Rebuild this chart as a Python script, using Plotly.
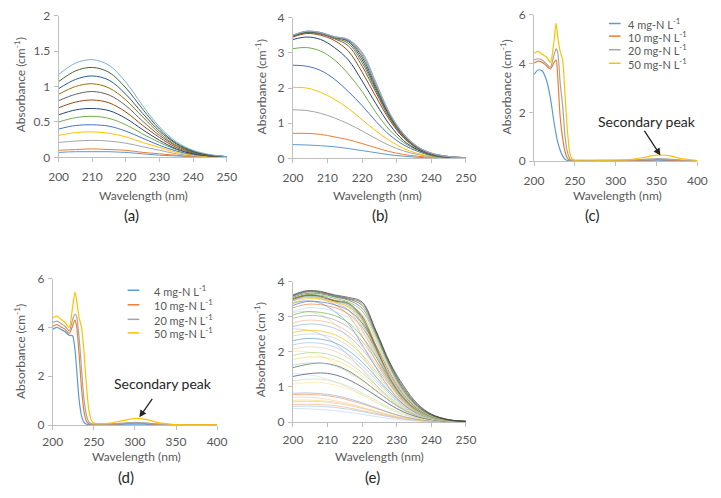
import plotly.graph_objects as go

W, H = 721, 498

# ---------------- data ----------------
# (a) wavelength grid and absorbance curves (bottom -> top)
wl_a = [200, 205, 210, 215, 220, 225, 230, 235, 240, 245, 250]
abs_a = [
    [0.07, 0.08, 0.08, 0.08, 0.07, 0.05, 0.03, 0.02, 0.01, 0.00, 0.00],
    [0.10, 0.11, 0.12, 0.11, 0.10, 0.07, 0.05, 0.03, 0.01, 0.01, 0.00],
    [0.21, 0.23, 0.24, 0.23, 0.20, 0.15, 0.10, 0.05, 0.02, 0.01, 0.00],
    [0.31, 0.35, 0.36, 0.34, 0.29, 0.21, 0.14, 0.07, 0.03, 0.01, 0.01],
    [0.40, 0.45, 0.46, 0.44, 0.37, 0.27, 0.17, 0.09, 0.04, 0.02, 0.01],
    [0.50, 0.56, 0.58, 0.55, 0.46, 0.33, 0.21, 0.11, 0.05, 0.02, 0.01],
    [0.60, 0.67, 0.69, 0.66, 0.55, 0.39, 0.24, 0.12, 0.05, 0.02, 0.01],
    [0.70, 0.78, 0.81, 0.77, 0.64, 0.45, 0.28, 0.14, 0.06, 0.02, 0.01],
    [0.80, 0.89, 0.93, 0.88, 0.73, 0.51, 0.31, 0.16, 0.07, 0.03, 0.01],
    [0.89, 1.00, 1.04, 0.98, 0.81, 0.57, 0.34, 0.17, 0.08, 0.03, 0.01],
    [0.97, 1.10, 1.15, 1.09, 0.89, 0.62, 0.37, 0.19, 0.08, 0.03, 0.01],
    [1.07, 1.22, 1.27, 1.20, 0.98, 0.68, 0.40, 0.20, 0.09, 0.03, 0.01],
    [1.17, 1.33, 1.38, 1.30, 1.06, 0.73, 0.43, 0.22, 0.10, 0.04, 0.01],
]
colors_a = ["#5B9BD5", "#ED7D31", "#A5A5A5", "#FFC000", "#4472C4", "#70AD47",
            "#264478", "#9E480E", "#636363", "#997300", "#255E91", "#43682B", "#7CAFDD"]

# (b)
wl_b = [200, 204, 208, 212, 216, 220, 224, 228, 232, 236, 240, 245, 250]
abs_b = [
    [0.39, 0.38, 0.36, 0.33, 0.28, 0.22, 0.16, 0.10, 0.06, 0.03, 0.01, 0.00, 0.00],
    [0.71, 0.71, 0.68, 0.61, 0.53, 0.42, 0.30, 0.19, 0.11, 0.06, 0.03, 0.01, 0.00],
    [1.38, 1.36, 1.28, 1.15, 0.98, 0.78, 0.56, 0.36, 0.21, 0.11, 0.05, 0.02, 0.00],
    [2.02, 2.00, 1.88, 1.68, 1.42, 1.10, 0.78, 0.50, 0.28, 0.14, 0.06, 0.02, 0.00],
    [2.65, 2.62, 2.50, 2.25, 1.90, 1.50, 1.05, 0.66, 0.38, 0.20, 0.08, 0.02, 0.01],
    [3.12, 3.15, 3.05, 2.80, 2.40, 1.90, 1.30, 0.80, 0.45, 0.23, 0.09, 0.03, 0.01],
    [3.38, 3.45, 3.38, 3.15, 2.80, 2.20, 1.55, 0.95, 0.50, 0.25, 0.10, 0.03, 0.01],
    [3.45, 3.55, 3.50, 3.35, 3.05, 2.45, 1.75, 1.08, 0.58, 0.28, 0.12, 0.04, 0.01],
    [3.47, 3.57, 3.53, 3.40, 3.20, 2.62, 1.87, 1.13, 0.60, 0.29, 0.13, 0.04, 0.01],
    [3.48, 3.58, 3.55, 3.42, 3.27, 2.72, 1.93, 1.16, 0.62, 0.30, 0.13, 0.04, 0.01],
    [3.49, 3.59, 3.56, 3.44, 3.32, 2.80, 1.98, 1.19, 0.64, 0.31, 0.14, 0.05, 0.01],
    [3.50, 3.60, 3.57, 3.45, 3.35, 2.88, 2.04, 1.22, 0.66, 0.32, 0.14, 0.05, 0.02],
    [3.50, 3.61, 3.57, 3.45, 3.37, 2.94, 2.09, 1.25, 0.67, 0.32, 0.14, 0.05, 0.02],
    [3.51, 3.61, 3.58, 3.46, 3.38, 2.99, 2.13, 1.27, 0.68, 0.33, 0.15, 0.05, 0.02],
    [3.50, 3.62, 3.58, 3.46, 3.38, 3.02, 2.16, 1.28, 0.70, 0.34, 0.15, 0.05, 0.02],
]
colors_b = ["#5B9BD5", "#ED7D31", "#A5A5A5", "#FFC000", "#4472C4", "#70AD47",
            "#264478", "#9E480E", "#636363", "#997300", "#255E91", "#43682B",
            "#698ED0", "#F1975A", "#7CAFDD"]

# (c) full spectra
wl_c = [200, 205, 210, 215, 220, 224, 227, 229, 232, 235, 238, 241, 244, 247, 250,
        255, 270, 300, 320, 335, 350, 365, 380, 400]
abs_c_4 = [3.56, 3.74, 3.70, 3.35, 2.60, 1.70, 1.10, 0.78, 0.45, 0.22, 0.08, 0.03,
           0.02, 0.02, 0.02, 0.02, 0.02, 0.02, 0.02, 0.03, 0.04, 0.03, 0.02, 0.01]
abs_c_10 = [4.03, 4.10, 4.05, 3.92, 3.78, 4.02, 4.15, 3.45, 1.80, 0.95, 0.38, 0.12,
            0.04, 0.03, 0.03, 0.03, 0.03, 0.03, 0.04, 0.05, 0.07, 0.06, 0.03, 0.01]
abs_c_20 = [4.15, 4.20, 4.15, 4.00, 3.85, 4.30, 4.60, 4.45, 3.20, 2.30, 1.00, 0.35,
            0.10, 0.04, 0.03, 0.03, 0.03, 0.04, 0.05, 0.08, 0.11, 0.09, 0.05, 0.02]
abs_c_50 = [4.42, 4.50, 4.38, 4.28, 4.05, 4.80, 5.65, 5.10, 4.50, 4.15, 2.70, 1.20,
            0.30, 0.08, 0.05, 0.05, 0.05, 0.05, 0.08, 0.16, 0.25, 0.23, 0.11, 0.03]

# (d) full spectra
wl_d = [200, 205, 210, 215, 220, 224, 227, 229, 232, 235, 238, 241, 244, 247, 250,
        255, 270, 285, 300, 315, 330, 345, 370, 400]
abs_d_4 = [3.93, 4.00, 3.92, 3.82, 3.68, 3.66, 3.10, 2.30, 1.05, 0.38, 0.11, 0.03,
           0.02, 0.02, 0.02, 0.02, 0.02, 0.03, 0.04, 0.03, 0.02, 0.01, 0.01, 0.01]
abs_d_10 = [4.05, 4.12, 4.02, 3.92, 3.75, 4.05, 4.30, 4.05, 2.90, 1.50, 0.55, 0.15,
            0.05, 0.03, 0.03, 0.03, 0.04, 0.06, 0.08, 0.06, 0.03, 0.02, 0.01, 0.01]
abs_d_20 = [4.20, 4.26, 4.16, 4.05, 3.85, 4.30, 4.55, 4.45, 3.60, 2.30, 1.05, 0.40,
            0.12, 0.05, 0.04, 0.04, 0.05, 0.08, 0.11, 0.08, 0.04, 0.02, 0.01, 0.01]
abs_d_50 = [4.40, 4.46, 4.33, 4.20, 4.00, 4.80, 5.45, 5.10, 4.40, 4.00, 3.00, 1.60,
            0.60, 0.20, 0.08, 0.06, 0.08, 0.18, 0.27, 0.22, 0.09, 0.03, 0.01, 0.01]

conc_labels = ["4 mg-N L<sup>-1</sup>", "10 mg-N L<sup>-1</sup>",
               "20 mg-N L<sup>-1</sup>", "50 mg-N L<sup>-1</sup>"]
conc_colors = ["#5B9BD5", "#ED7D31", "#A5A5A5", "#FFC000"]

# (e) all spectra: the (b) curves plus additional curves on the same grid
wl_e = wl_b
abs_e_extra = [
    [0.45, 0.46, 0.45, 0.42, 0.37, 0.30, 0.22, 0.15, 0.09, 0.05, 0.02, 0.01, 0.00],
    [0.50, 0.51, 0.50, 0.47, 0.41, 0.33, 0.25, 0.17, 0.10, 0.05, 0.02, 0.01, 0.00],
    [0.58, 0.59, 0.58, 0.54, 0.48, 0.39, 0.29, 0.19, 0.11, 0.06, 0.03, 0.01, 0.00],
    [0.62, 0.63, 0.61, 0.57, 0.50, 0.41, 0.31, 0.21, 0.12, 0.06, 0.03, 0.01, 0.00],
    [0.78, 0.79, 0.77, 0.72, 0.63, 0.52, 0.39, 0.26, 0.15, 0.08, 0.04, 0.01, 0.00],
    [0.82, 0.83, 0.81, 0.76, 0.67, 0.55, 0.41, 0.27, 0.16, 0.08, 0.04, 0.01, 0.00],
    [1.08, 1.12, 1.12, 1.06, 0.94, 0.77, 0.57, 0.38, 0.22, 0.11, 0.05, 0.02, 0.00],
    [1.18, 1.22, 1.22, 1.15, 1.02, 0.83, 0.62, 0.41, 0.24, 0.12, 0.06, 0.02, 0.00],
    [1.30, 1.37, 1.40, 1.35, 1.21, 1.00, 0.75, 0.50, 0.29, 0.15, 0.07, 0.02, 0.01],
    [1.55, 1.64, 1.68, 1.62, 1.46, 1.20, 0.90, 0.60, 0.35, 0.18, 0.08, 0.03, 0.01],
    [1.62, 1.68, 1.68, 1.60, 1.43, 1.18, 0.89, 0.60, 0.35, 0.18, 0.08, 0.03, 0.01],
    [1.78, 1.85, 1.85, 1.77, 1.59, 1.31, 0.99, 0.66, 0.38, 0.19, 0.09, 0.03, 0.01],
    [1.90, 1.97, 1.97, 1.88, 1.69, 1.40, 1.05, 0.70, 0.41, 0.21, 0.09, 0.03, 0.01],
    [2.08, 2.14, 2.12, 2.02, 1.82, 1.51, 1.14, 0.76, 0.44, 0.22, 0.10, 0.03, 0.01],
    [2.20, 2.26, 2.24, 2.14, 1.93, 1.61, 1.21, 0.81, 0.47, 0.24, 0.11, 0.03, 0.01],
    [2.32, 2.38, 2.36, 2.26, 2.04, 1.71, 1.29, 0.86, 0.50, 0.25, 0.11, 0.04, 0.01],
    [2.45, 2.51, 2.49, 2.39, 2.17, 1.82, 1.38, 0.92, 0.53, 0.27, 0.12, 0.04, 0.01],
    [2.55, 2.61, 2.59, 2.49, 2.27, 1.91, 1.45, 0.97, 0.56, 0.28, 0.12, 0.04, 0.01],
    [2.72, 2.79, 2.77, 2.67, 2.45, 2.07, 1.58, 1.05, 0.61, 0.30, 0.13, 0.04, 0.01],
    [2.82, 2.90, 2.88, 2.78, 2.56, 2.17, 1.66, 1.10, 0.63, 0.31, 0.14, 0.04, 0.01],
    [2.95, 3.03, 3.01, 2.91, 2.70, 2.30, 1.76, 1.16, 0.66, 0.33, 0.14, 0.05, 0.01],
    [3.05, 3.14, 3.12, 3.03, 2.83, 2.43, 1.86, 1.22, 0.69, 0.34, 0.15, 0.05, 0.01],
    [3.15, 3.25, 3.24, 3.15, 2.96, 2.57, 1.97, 1.28, 0.72, 0.36, 0.15, 0.05, 0.01],
    [3.25, 3.35, 3.34, 3.26, 3.08, 2.70, 2.08, 1.34, 0.75, 0.37, 0.16, 0.05, 0.01],
    [3.32, 3.43, 3.42, 3.34, 3.18, 2.82, 2.18, 1.40, 0.78, 0.38, 0.16, 0.05, 0.01],
    [3.40, 3.51, 3.50, 3.42, 3.28, 2.95, 2.28, 1.46, 0.81, 0.40, 0.17, 0.05, 0.02],
    [3.45, 3.57, 3.56, 3.48, 3.36, 3.06, 2.36, 1.51, 0.84, 0.41, 0.18, 0.06, 0.02],
    [3.50, 3.62, 3.61, 3.52, 3.42, 3.16, 2.44, 1.56, 0.87, 0.43, 0.19, 0.06, 0.02],
    [3.55, 3.66, 3.65, 3.56, 3.47, 3.24, 2.50, 1.60, 0.90, 0.45, 0.20, 0.06, 0.02],
    [3.58, 3.70, 3.68, 3.58, 3.50, 3.32, 2.55, 1.64, 0.94, 0.47, 0.21, 0.06, 0.02],
    [3.60, 3.72, 3.70, 3.60, 3.52, 3.38, 2.58, 1.67, 0.98, 0.49, 0.22, 0.07, 0.02],
    [3.62, 3.74, 3.72, 3.62, 3.55, 3.42, 2.60, 1.70, 1.03, 0.52, 0.23, 0.07, 0.02],
]
colors_e_extra = ["#9DC3E6", "#F4B183", "#C9C9C9", "#FFD966", "#F1975A", "#8FAADC",
                  "#FFE699", "#C5E0B4", "#264478", "#43682B", "#B4C7E7", "#FFD966",
                  "#A9D18E", "#F8CBAD", "#9DC3E6", "#5B9BD5", "#C9C9C9", "#FFC000",
                  "#8FAADC", "#F4B183", "#A5A5A5", "#70AD47", "#BDD7EE", "#ED7D31",
                  "#4472C4", "#FFC000", "#9DC3E6", "#70AD47", "#636363", "#43682B",
                  "#525252", "#3B3B3B"]
colors_e_b = ["#BDD7EE", "#F8CBAD", "#DBDBDB", "#FFE699", "#B4C7E7", "#C5E0B4",
              "#698ED0", "#F1975A", "#B7B7B7", "#FFCD33", "#7CAFDD", "#8CC168",
              "#255E91", "#9E480E", "#997300"]

x_ticks_short = [200, 210, 220, 230, 240, 250]
x_ticks_long = [200, 250, 300, 350, 400]

# ---------------- layout helpers ----------------
def px_x(p):
    return p / W

def px_y(p):
    return 1 - p / H

FONT = "Lato, 'Open Sans', sans-serif"
TICK_COLOR = "#595959"
AXIS_COLOR = "#BFBFBF"

# panel boxes in pixels: (left, right, top, bottom)
boxes = {
    "a": (50, 223, 8, 154),
    "b": (291, 469, 10, 155),
    "c": (539, 707, 7, 158),
    "d": (44, 213, 279, 430),
    "e": (291, 469, 282, 427),
}
axis_ids = {"a": "", "b": "2", "c": "3", "d": "4", "e": "5"}

fig = go.Figure()

def add_line(panel, x, y, color, width=1.0, opacity=1.0, smoothing=1.0):
    aid = axis_ids[panel]
    fig.add_trace(go.Scatter(
        x=x, y=y, mode="lines",
        line=dict(color=color, width=width, shape="spline", smoothing=smoothing),
        opacity=opacity, showlegend=False, hoverinfo="skip",
        xaxis="x" + aid, yaxis="y" + aid))

for vals, col in zip(abs_a, colors_a):
    add_line("a", wl_a, vals, col, width=1.0)

for vals, col in zip(abs_b, colors_b):
    add_line("b", wl_b, vals, col, width=1.0)

for vals, col in zip([abs_c_4, abs_c_10, abs_c_20, abs_c_50], conc_colors):
    add_line("c", wl_c, vals, col, width=1.2, smoothing=0.7)

for vals, col in zip([abs_d_4, abs_d_10, abs_d_20, abs_d_50], conc_colors):
    add_line("d", wl_d, vals, col, width=1.2, smoothing=0.7)

for vals, col in zip(abs_b, colors_e_b):
    add_line("e", wl_e, vals, col, width=0.9, opacity=0.75)
for vals, col in zip(abs_e_extra, colors_e_extra):
    add_line("e", wl_e, vals, col, width=0.9, opacity=0.75)

layout = dict(
    width=W, height=H, autosize=False,
    margin=dict(l=0, r=0, t=0, b=0),
    paper_bgcolor="white", plot_bgcolor="white",
    font=dict(family=FONT, color=TICK_COLOR, size=12),
    showlegend=False,
)

panel_ranges = {
    "a": ([200, 250], x_ticks_short, [0, 2], 0.5),
    "b": ([200, 250], x_ticks_short, [0, 4], 1),
    "c": ([200, 400], x_ticks_long, [0, 6], 2),
    "d": ([200, 400], x_ticks_long, [0, 6], 2),
    "e": ([200, 250], x_ticks_short, [0, 4], 1),
}

for p, (l, r, t, b) in boxes.items():
    aid = axis_ids[p]
    xr, xt, yr, ydt = panel_ranges[p]
    top_row = p in ("a", "b", "c")
    layout["xaxis" + aid] = dict(
        domain=[px_x(l), px_x(r)], range=xr, tickvals=xt,
        showline=True, linecolor=AXIS_COLOR, linewidth=1,
        ticks="outside", ticklen=4, tickcolor=AXIS_COLOR,
        showgrid=False, zeroline=False,
        tickfont=dict(size=12, color=TICK_COLOR, family=FONT),
        ticklabelstandoff=4 if top_row else 2,
        anchor="y" + aid, fixedrange=True)
    layout["yaxis" + aid] = dict(
        domain=[px_y(b), px_y(t)], range=yr, dtick=ydt, tick0=0,
        showline=True, linecolor=AXIS_COLOR, linewidth=1,
        ticks="outside", ticklen=4, tickcolor=AXIS_COLOR,
        showgrid=False, zeroline=False,
        tickfont=dict(size=12, color=TICK_COLOR, family=FONT),
        ticklabelstandoff=1,
        anchor="x" + aid, fixedrange=True)

fig.update_layout(**layout)

annotations = []
def text(x, y, s, size=12, color=TICK_COLOR, angle=0, xanchor="center"):
    annotations.append(dict(
        x=px_x(x), y=px_y(y), xref="paper", yref="paper", text=s,
        showarrow=False, textangle=angle, xanchor=xanchor, yanchor="middle",
        font=dict(size=size, color=color, family=FONT)))

# x-axis titles
for xc in (137, 378, 625):
    text(xc, 193, "Wavelength (nm)")
for xc in (130, 380):
    text(xc, 462, "Wavelength (nm)")
# y-axis titles
ytitle = "Absorbance (cm<sup>-1</sup>)"
text(10, 79, ytitle, angle=-90)
text(258, 81, ytitle, angle=-90)
text(510, 81, ytitle, angle=-90)
text(11, 354, ytitle, angle=-90)
text(258, 352, ytitle, angle=-90)
# panel labels
for (xc, yc, s) in [(125, 213, "(a)"), (381, 213, "(b)"), (599, 213, "(c)"),
                    (119, 484, "(d)"), (373, 484, "(e)")]:
    text(xc, yc, s, size=15, color="#262626")

# legends (c) and (d)
shapes = []
leg_c_y = [16, 29, 43, 57]
leg_d_y = [291, 306, 321, 335]
for lab, col, yc in zip(conc_labels, conc_colors, leg_c_y):
    shapes.append(dict(type="line", xref="paper", yref="paper",
                       x0=px_x(616), x1=px_x(628), y0=px_y(yc), y1=px_y(yc),
                       line=dict(color=col, width=1.5)))
    text(634, yc, lab, size=11, xanchor="left")
for lab, col, yc in zip(conc_labels, conc_colors, leg_d_y):
    shapes.append(dict(type="line", xref="paper", yref="paper",
                       x0=px_x(121), x1=px_x(133), y0=px_y(yc), y1=px_y(yc),
                       line=dict(color=col, width=1.5)))
    text(146, yc, lab, size=11, xanchor="left")

# Secondary peak annotations
text(655, 117, "Secondary peak", size=14, color="#262626")
text(157, 387, "Secondary peak", size=14, color="#262626")
for (hx, hy, tx, ty) in [(669, 152, 652, 126), (133, 422, 147, 402)]:
    annotations.append(dict(
        x=px_x(hx), y=px_y(hy), xref="paper", yref="paper",
        ax=tx - hx, ay=ty - hy, axref="pixel", ayref="pixel",
        showarrow=True, arrowhead=2, arrowsize=1.1, arrowwidth=1.3,
        arrowcolor="#262626", text=""))

fig.update_layout(annotations=annotations, shapes=shapes)

fig.write_html(
    "out.html",
    config={"displayModeBar": False},
    post_script="document.body.style.margin='0';document.body.style.padding='0';"
                "document.documentElement.style.margin='0';",
)
